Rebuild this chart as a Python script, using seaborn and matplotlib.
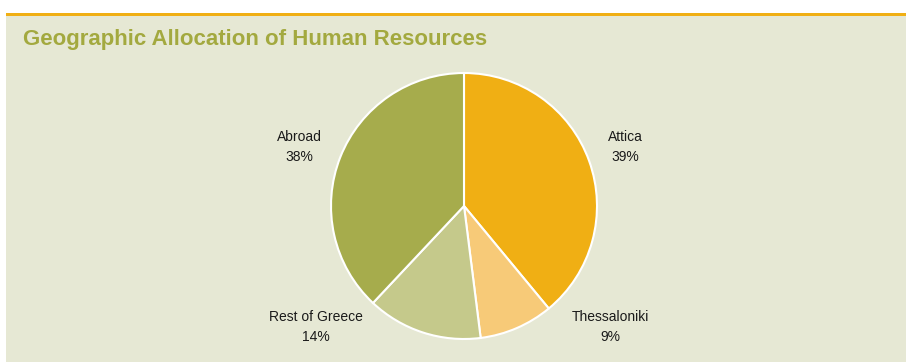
import matplotlib
matplotlib.use("Agg")
import matplotlib.pyplot as plt
import seaborn as sns
from matplotlib.patches import Rectangle

categories = ["Attica", "Thessaloniki", "Rest of Greece", "Abroad"]
shares = [39, 9, 14, 38]
colors = ["#F0AF14", "#F7CA78", "#C5C98B", "#A6AC4C"]
label_pos = [(1.21, 0.445), (1.10, -0.91), (-1.11, -0.91), (-1.24, 0.445)]

sns.set_theme(style="white")
plt.rcParams['font.family'] = ['Liberation Sans', 'DejaVu Sans']

W, H = 906, 362
fig = plt.figure(figsize=(W / 100, H / 100), dpi=100, facecolor="white")

# panel background and top rule
fig.patches.append(Rectangle((6 / W, 0), 1 - 6 / W, (H - 16) / H, transform=fig.transFigure,
                             facecolor="#E6E8D4", edgecolor="none", zorder=-2))
fig.patches.append(Rectangle((6 / W, (H - 16) / H), 1 - 6 / W, 3 / H, transform=fig.transFigure,
                             facecolor="#F0AF14", edgecolor="none", zorder=-2))

fig.text(23 / W, (H - 45) / H, "Geographic Allocation of Human Resources",
         fontsize=16, fontweight="bold", color="#A3A93F", ha="left", va="baseline")

cx, cy, r = 464, 206, 133
ax = fig.add_axes([(cx - r) / W, (H - cy - r) / H, 2 * r / W, 2 * r / H])
ax.set_zorder(1)
ax.set_facecolor("none")
ax.pie(shares, colors=colors, startangle=90, counterclock=False, radius=1,
       wedgeprops=dict(edgecolor="white", linewidth=1.5))
ax.set_xlim(-1, 1)
ax.set_ylim(-1, 1)
ax.set_aspect("auto")
ax.axis("off")

for name, val, (x, y) in zip(categories, shares, label_pos):
    ax.text(x, y, f"{name}\n{val}%", ha="center", va="center", fontsize=10,
            color="#1a1a1a", linespacing=1.5, clip_on=False)

fig.savefig("out.png", dpi=100, facecolor="white")
